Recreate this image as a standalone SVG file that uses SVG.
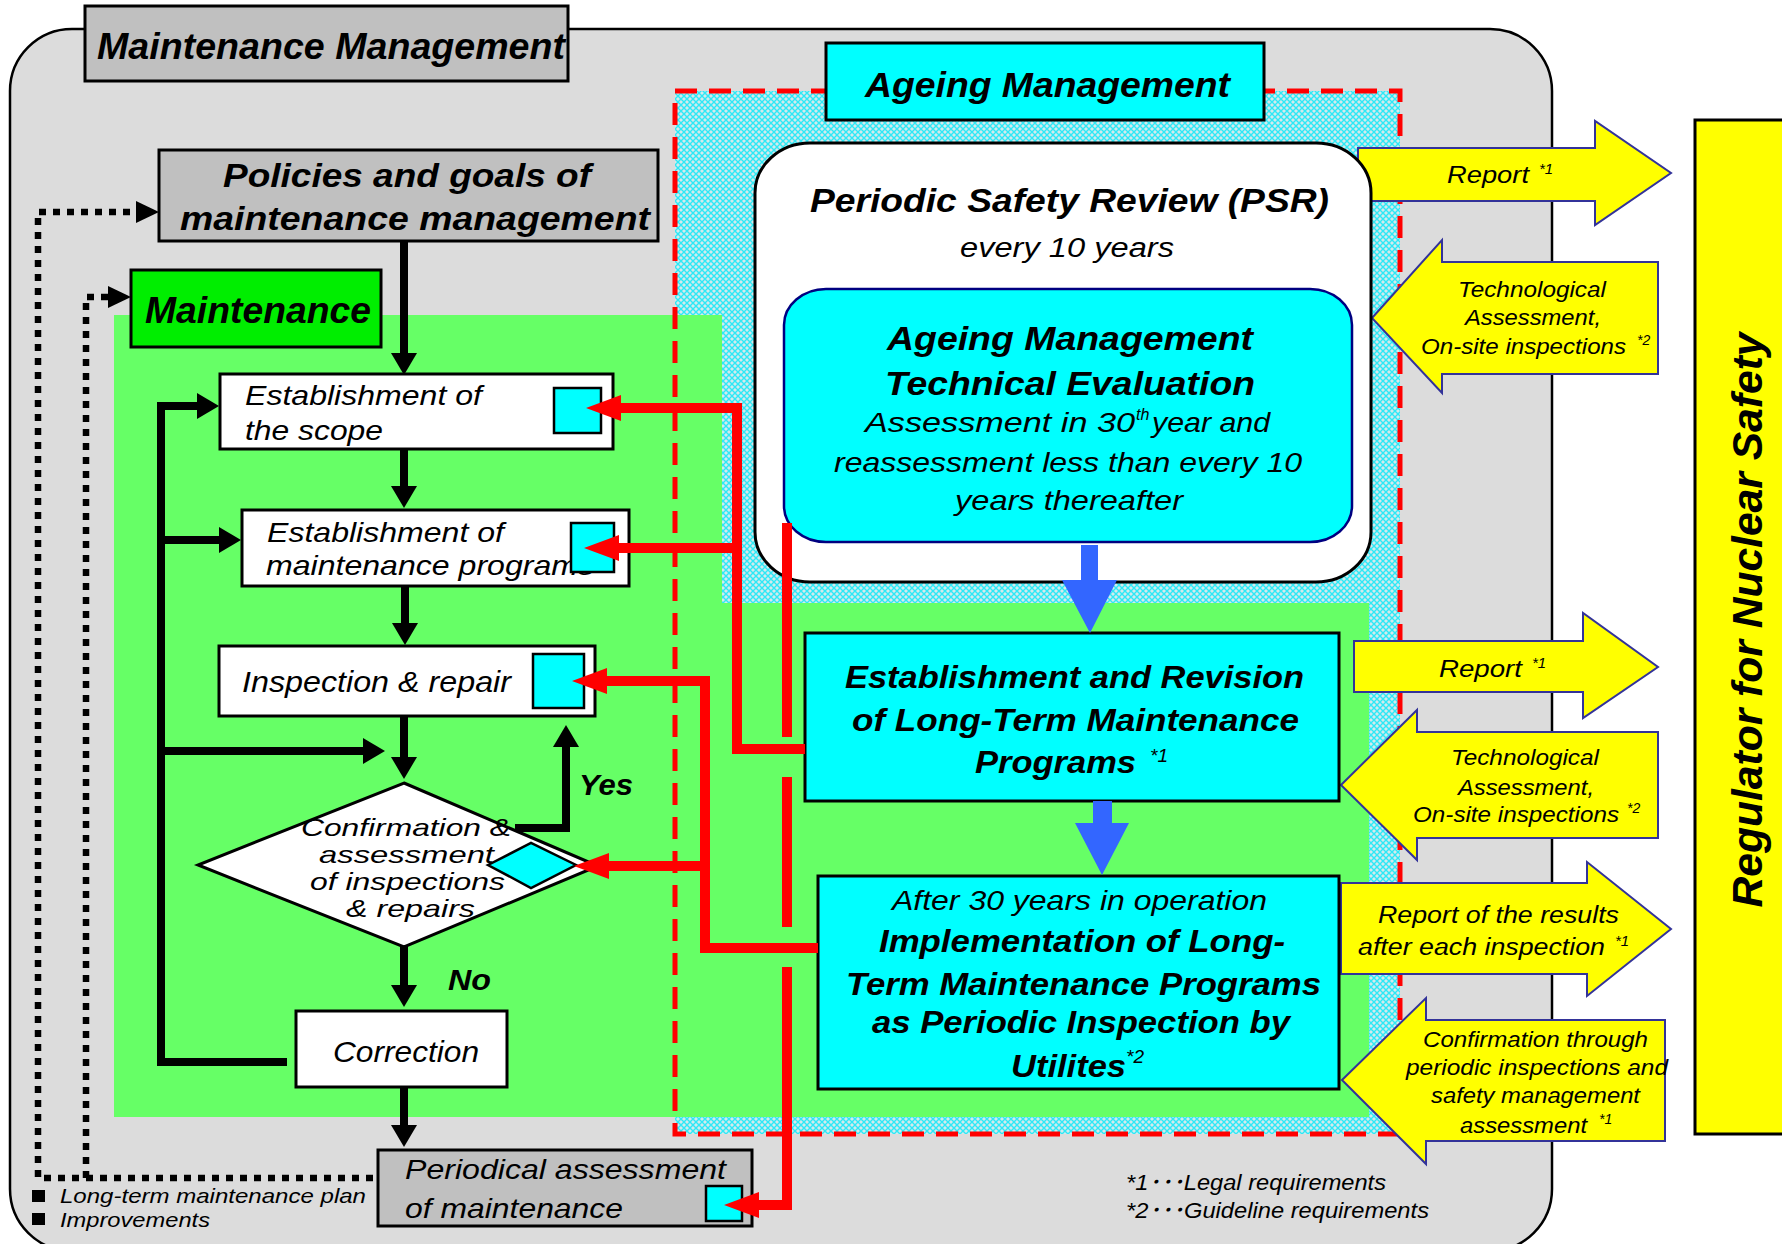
<svg xmlns="http://www.w3.org/2000/svg" width="1782" height="1244" viewBox="0 0 1782 1244">
<defs>
<style>
.t{font-family:"Liberation Sans",Arial,"Noto Sans CJK JP",sans-serif;font-style:italic;fill:#000}
.b{font-weight:bold}
.box{stroke:#000;stroke-width:3}
.sq{fill:#00ffff;stroke:#000;stroke-width:2.5}
.ya{fill:#ffff00;stroke:#333399;stroke-width:2}
.blk{fill:none;stroke:#000;stroke-width:8}
.red{fill:none;stroke:#ff0000;stroke-width:10}
.dot{fill:none;stroke:#000;stroke-width:6.5;stroke-dasharray:7 7}
</style>
<pattern id="hatch" width="6" height="6" patternUnits="userSpaceOnUse">
<rect width="6" height="6" fill="#d4eaec"/>
<path d="M0,0 L6,6 M6,0 L0,6" stroke="#2ee8f6" stroke-width="1.4"/>
</pattern>
<marker id="ab" viewBox="0 0 22 26" refX="0" refY="13" markerWidth="22" markerHeight="26" markerUnits="userSpaceOnUse" orient="auto">
<path d="M0,0 L22,13 L0,26 z" fill="#000"/>
</marker>
<marker id="ad" viewBox="0 0 23 22" refX="0" refY="11" markerWidth="23" markerHeight="22" markerUnits="userSpaceOnUse" orient="auto">
<path d="M0,0 L23,11 L0,22 z" fill="#000"/>
</marker>
<marker id="ar" viewBox="0 0 35 26" refX="0" refY="13" markerWidth="35" markerHeight="26" markerUnits="userSpaceOnUse" orient="auto">
<path d="M0,0 L35,13 L0,26 z" fill="#ff0000"/>
</marker>
</defs>
<rect width="1782" height="1244" fill="#fff"/>

<!-- outer maintenance management area -->
<g id="maintenance-management-area">
<rect x="10" y="29" width="1542" height="1222" rx="62" ry="62" fill="#dcdcdc" stroke="#000" stroke-width="2.5"/>
</g>

<!-- ageing management hatched area -->
<g id="ageing-area">
<rect x="675" y="91" width="725" height="1043" fill="url(#hatch)"/>
</g>

<!-- maintenance green area -->
<g id="maintenance-area">
<path d="M114,315 H722 V603 H1369 V1117 H114 Z" fill="#66ff66"/>
</g>

<g id="ageing-border">
<rect x="675" y="91" width="725" height="1043" fill="none" stroke="#ff0000" stroke-width="5" stroke-dasharray="22 12"/>
</g>

<!-- yellow arrows (behind PSR box) -->
<g id="arrow-report-1">
<polygon class="ya" points="1358,148 1595,148 1595,121 1671,173 1595,225 1595,201 1358,201"/>
<text class="t" x="1447" y="183" font-size="24" textLength="82" lengthAdjust="spacingAndGlyphs">Report</text>
<text class="t" x="1539" y="174" font-size="15">*1</text>
</g>
<g id="arrow-tech-1">
<polygon class="ya" points="1372,318 1442,240 1442,262 1658,262 1658,374 1442,374 1442,393"/>
<text class="t" x="1458" y="297" font-size="22" textLength="148" lengthAdjust="spacingAndGlyphs">Technological</text>
<text class="t" x="1465" y="325" font-size="22" textLength="136" lengthAdjust="spacingAndGlyphs">Assessment,</text>
<text class="t" x="1421" y="354" font-size="22" textLength="205" lengthAdjust="spacingAndGlyphs">On-site inspections</text>
<text class="t" x="1637" y="345" font-size="14">*2</text>
</g>
<g id="arrow-report-2">
<polygon class="ya" points="1354,641 1583,641 1583,613 1658,667 1583,718 1583,692 1354,692"/>
<text class="t" x="1439" y="677" font-size="24" textLength="83" lengthAdjust="spacingAndGlyphs">Report</text>
<text class="t" x="1532" y="668" font-size="15">*1</text>
</g>
<g id="arrow-tech-2">
<polygon class="ya" points="1341,785 1417,710 1417,732 1658,732 1658,838 1417,838 1417,860"/>
<text class="t" x="1451" y="765" font-size="22" textLength="148" lengthAdjust="spacingAndGlyphs">Technological</text>
<text class="t" x="1458" y="795" font-size="22" textLength="136" lengthAdjust="spacingAndGlyphs">Assessment,</text>
<text class="t" x="1413" y="822" font-size="22" textLength="206" lengthAdjust="spacingAndGlyphs">On-site inspections</text>
<text class="t" x="1627" y="813" font-size="14">*2</text>
</g>
<g id="arrow-report-results">
<polygon class="ya" points="1341,883 1587,883 1587,862 1671,929 1587,996 1587,974 1341,974"/>
<text class="t" x="1378" y="923" font-size="23" textLength="241" lengthAdjust="spacingAndGlyphs">Report of the results</text>
<text class="t" x="1358" y="955" font-size="23" textLength="247" lengthAdjust="spacingAndGlyphs">after each inspection</text>
<text class="t" x="1615" y="946" font-size="15">*1</text>
</g>
<g id="arrow-confirmation">
<polygon class="ya" points="1342,1080 1426,998 1426,1020 1665,1020 1665,1141 1426,1141 1426,1164"/>
<text class="t" x="1423" y="1047" font-size="22" textLength="225" lengthAdjust="spacingAndGlyphs">Confirmation through</text>
<text class="t" x="1406" y="1075" font-size="22" textLength="262" lengthAdjust="spacingAndGlyphs">periodic inspections and</text>
<text class="t" x="1431" y="1103" font-size="22" textLength="209" lengthAdjust="spacingAndGlyphs">safety management</text>
<text class="t" x="1460" y="1133" font-size="22" textLength="127" lengthAdjust="spacingAndGlyphs">assessment</text>
<text class="t" x="1599" y="1124" font-size="14">*1</text>
</g>

<!-- regulator -->
<g id="regulator">
<rect x="1695" y="120" width="100" height="1014" fill="#ffff00" stroke="#000" stroke-width="3"/>
<text class="t b" transform="translate(1762,620) rotate(-90)" x="0" y="0" font-size="42" text-anchor="middle" textLength="575" lengthAdjust="spacingAndGlyphs">Regulator for Nuclear Safety</text>
</g>

<!-- labels -->
<g id="label-maintenance-management">
<rect class="box" x="85" y="6" width="483" height="75" fill="#c0c0c0"/>
<text class="t b" x="97" y="59" font-size="36" textLength="468" lengthAdjust="spacingAndGlyphs">Maintenance Management</text>
</g>
<g id="label-ageing-management">
<rect class="box" x="826" y="43" width="438" height="77" fill="#00ffff"/>
<text class="t b" x="865" y="97" font-size="35" textLength="365" lengthAdjust="spacingAndGlyphs">Ageing Management</text>
</g>

<!-- PSR -->
<g id="psr">
<rect x="755" y="143" width="616" height="439" rx="55" ry="50" fill="#fff" stroke="#000" stroke-width="3"/>
<text class="t b" x="810" y="212" font-size="33" textLength="519" lengthAdjust="spacingAndGlyphs">Periodic Safety Review (PSR)</text>
<text class="t" x="960" y="257" font-size="27" textLength="214" lengthAdjust="spacingAndGlyphs">every 10 years</text>
</g>
<g id="tech-eval">
<rect x="784" y="289" width="568" height="253" rx="42" ry="36" fill="#00ffff" stroke="#000080" stroke-width="2.5"/>
<text class="t b" x="887" y="350" font-size="33" textLength="366" lengthAdjust="spacingAndGlyphs">Ageing Management</text>
<text class="t b" x="885" y="395" font-size="33" textLength="370" lengthAdjust="spacingAndGlyphs">Technical Evaluation</text>
<text class="t" x="865" y="432" font-size="28" textLength="270" lengthAdjust="spacingAndGlyphs">Assessment in 30</text>
<text class="t" x="1136" y="420" font-size="16">th</text>
<text class="t" x="1152" y="432" font-size="28" textLength="118" lengthAdjust="spacingAndGlyphs">year and</text>
<text class="t" x="834" y="472" font-size="28" textLength="468" lengthAdjust="spacingAndGlyphs">reassessment less than every 10</text>
<text class="t" x="955" y="510" font-size="28" textLength="228" lengthAdjust="spacingAndGlyphs">years thereafter</text>
</g>
<g id="revision">
<rect class="box" x="805" y="633" width="534" height="168" fill="#00ffff"/>
<text class="t b" x="845" y="688" font-size="31" textLength="459" lengthAdjust="spacingAndGlyphs">Establishment and Revision</text>
<text class="t b" x="852" y="731" font-size="31" textLength="447" lengthAdjust="spacingAndGlyphs">of Long-Term Maintenance</text>
<text class="t b" x="975" y="773" font-size="31" textLength="161" lengthAdjust="spacingAndGlyphs">Programs</text>
<text class="t" x="1150" y="762" font-size="19">*1</text>
</g>
<g id="implementation">
<rect class="box" x="818" y="876" width="521" height="213" fill="#00ffff"/>
<text class="t" x="892" y="910" font-size="28" textLength="375" lengthAdjust="spacingAndGlyphs">After 30 years in operation</text>
<text class="t b" x="879" y="952" font-size="31" textLength="406" lengthAdjust="spacingAndGlyphs">Implementation of Long-</text>
<text class="t b" x="846" y="995" font-size="31" textLength="475" lengthAdjust="spacingAndGlyphs">Term Maintenance Programs</text>
<text class="t b" x="872" y="1033" font-size="31" textLength="418" lengthAdjust="spacingAndGlyphs">as Periodic Inspection by</text>
<text class="t b" x="1011" y="1077" font-size="31" textLength="115" lengthAdjust="spacingAndGlyphs">Utilites</text>
<text class="t" x="1126" y="1063" font-size="19">*2</text>
</g>

<!-- left flow -->
<g id="label-policies">
<rect class="box" x="159" y="150" width="499" height="91" fill="#c0c0c0"/>
<text class="t b" x="223" y="187" font-size="34" textLength="368" lengthAdjust="spacingAndGlyphs">Policies and goals of</text>
<text class="t b" x="180" y="230" font-size="34" textLength="470" lengthAdjust="spacingAndGlyphs">maintenance management</text>
</g>
<g id="label-maintenance">
<rect class="box" x="131" y="270" width="250" height="77" fill="#00ee00"/>
<text class="t b" x="145" y="323" font-size="36" textLength="226" lengthAdjust="spacingAndGlyphs">Maintenance</text>
</g>
<g id="scope">
<rect class="box" x="220" y="374" width="393" height="75" fill="#fff"/>
<text class="t" x="245" y="405" font-size="28" textLength="237" lengthAdjust="spacingAndGlyphs">Establishment of</text>
<text class="t" x="245" y="440" font-size="28" textLength="138" lengthAdjust="spacingAndGlyphs">the scope</text>
<rect class="sq" x="554" y="388" width="47" height="45"/>
</g>
<g id="programs">
<rect class="box" x="242" y="510" width="387" height="76" fill="#fff"/>
<text class="t" x="267" y="542" font-size="28" textLength="237" lengthAdjust="spacingAndGlyphs">Establishment of</text>
<text class="t" x="266" y="575" font-size="28" textLength="328" lengthAdjust="spacingAndGlyphs">maintenance programs</text>
<rect class="sq" x="571" y="523" width="43" height="49"/>
</g>
<g id="inspection">
<rect class="box" x="219" y="646" width="376" height="70" fill="#fff"/>
<text class="t" x="242" y="692" font-size="29" textLength="269" lengthAdjust="spacingAndGlyphs">Inspection &amp; repair</text>
<rect class="sq" x="533" y="654" width="51" height="54"/>
</g>
<g id="confirmation">
<polygon points="404,783 598,866 404,947 198,865" fill="#fff" stroke="#000" stroke-width="3"/>
<text class="t" x="301" y="836" font-size="24" textLength="210" lengthAdjust="spacingAndGlyphs">Confirmation &amp;</text>
<text class="t" x="319" y="863" font-size="24" textLength="175" lengthAdjust="spacingAndGlyphs">assessment</text>
<text class="t" x="310" y="890" font-size="24" textLength="195" lengthAdjust="spacingAndGlyphs">of inspections</text>
<text class="t" x="346" y="917" font-size="24" textLength="129" lengthAdjust="spacingAndGlyphs">&amp; repairs</text>
<polygon class="sq" points="488,865 531,843 576,865 531,888"/>
</g>
<g id="correction">
<rect class="box" x="296" y="1011" width="211" height="76" fill="#fff"/>
<text class="t" x="333" y="1062" font-size="29" textLength="146" lengthAdjust="spacingAndGlyphs">Correction</text>
</g>
<g id="periodical">
<rect class="box" x="378" y="1150" width="374" height="76" fill="#c0c0c0"/>
<text class="t" x="405" y="1179" font-size="28" textLength="321" lengthAdjust="spacingAndGlyphs">Periodical assessment</text>
<text class="t" x="405" y="1218" font-size="28" textLength="218" lengthAdjust="spacingAndGlyphs">of maintenance</text>
<rect class="sq" x="706" y="1186" width="36" height="35"/>
</g>

<!-- connectors -->
<g id="connectors">
<path class="dot" d="M373,1178 H38 V212 H136" marker-end="url(#ad)"/>
<path class="dot" d="M86,1178 V297 H108" marker-end="url(#ad)"/>
<path class="blk" d="M404,241 V353" marker-end="url(#ab)"/>
<path class="blk" d="M404,449 V486" marker-end="url(#ab)"/>
<path class="blk" d="M405,586 V623" marker-end="url(#ab)"/>
<path class="blk" d="M404,716 V757" marker-end="url(#ab)"/>
<path class="blk" d="M404,947 V985" marker-end="url(#ab)"/>
<path class="blk" d="M404,1087 V1125" marker-end="url(#ab)"/>
<path class="blk" d="M287,1062 H161 V406 H197" marker-end="url(#ab)"/>
<path class="blk" d="M161,540 H219" marker-end="url(#ab)"/>
<path class="blk" d="M161,751 H363" marker-end="url(#ab)"/>
<path class="blk" d="M515,828 H566 V747" marker-end="url(#ab)"/>
<path class="red" d="M805,749 H737 V408 H621" marker-end="url(#ar)"/>
<path class="red" d="M737,548 H619" marker-end="url(#ar)"/>
<path class="red" d="M818,948 H705 V681 H607" marker-end="url(#ar)"/>
<path class="red" d="M705,866 H609" marker-end="url(#ar)"/>
<path class="red" d="M787,523 V737 M787,777 V927"/>
<path class="red" d="M787,967 V1205 H759" marker-end="url(#ar)"/>
<polygon points="1081,545 1098,545 1098,580 1117,580 1090,633 1062,580 1081,580" fill="#3366ff"/>
<polygon points="1093,801 1112,801 1112,823 1129,823 1102,875 1075,823 1093,823" fill="#3366ff"/>
</g>

<!-- edge labels -->
<g id="edge-labels">
<text class="t b" x="579" y="795" font-size="30" textLength="54" lengthAdjust="spacingAndGlyphs">Yes</text>
<text class="t b" x="448" y="990" font-size="30" textLength="43" lengthAdjust="spacingAndGlyphs">No</text>
</g>

<!-- legend & footnotes -->
<g id="legend">
<rect x="32" y="1190" width="13" height="12" fill="#000"/>
<rect x="32" y="1213" width="13" height="12" fill="#000"/>
<text class="t" x="60" y="1203" font-size="21" textLength="306" lengthAdjust="spacingAndGlyphs">Long-term maintenance plan</text>
<text class="t" x="60" y="1227" font-size="21" textLength="150" lengthAdjust="spacingAndGlyphs">Improvements</text>
<text class="t" x="1126" y="1190" font-size="22" textLength="260" lengthAdjust="spacingAndGlyphs">*1･･･Legal requirements</text>
<text class="t" x="1126" y="1218" font-size="22" textLength="303" lengthAdjust="spacingAndGlyphs">*2･･･Guideline requirements</text>
</g>
</svg>
